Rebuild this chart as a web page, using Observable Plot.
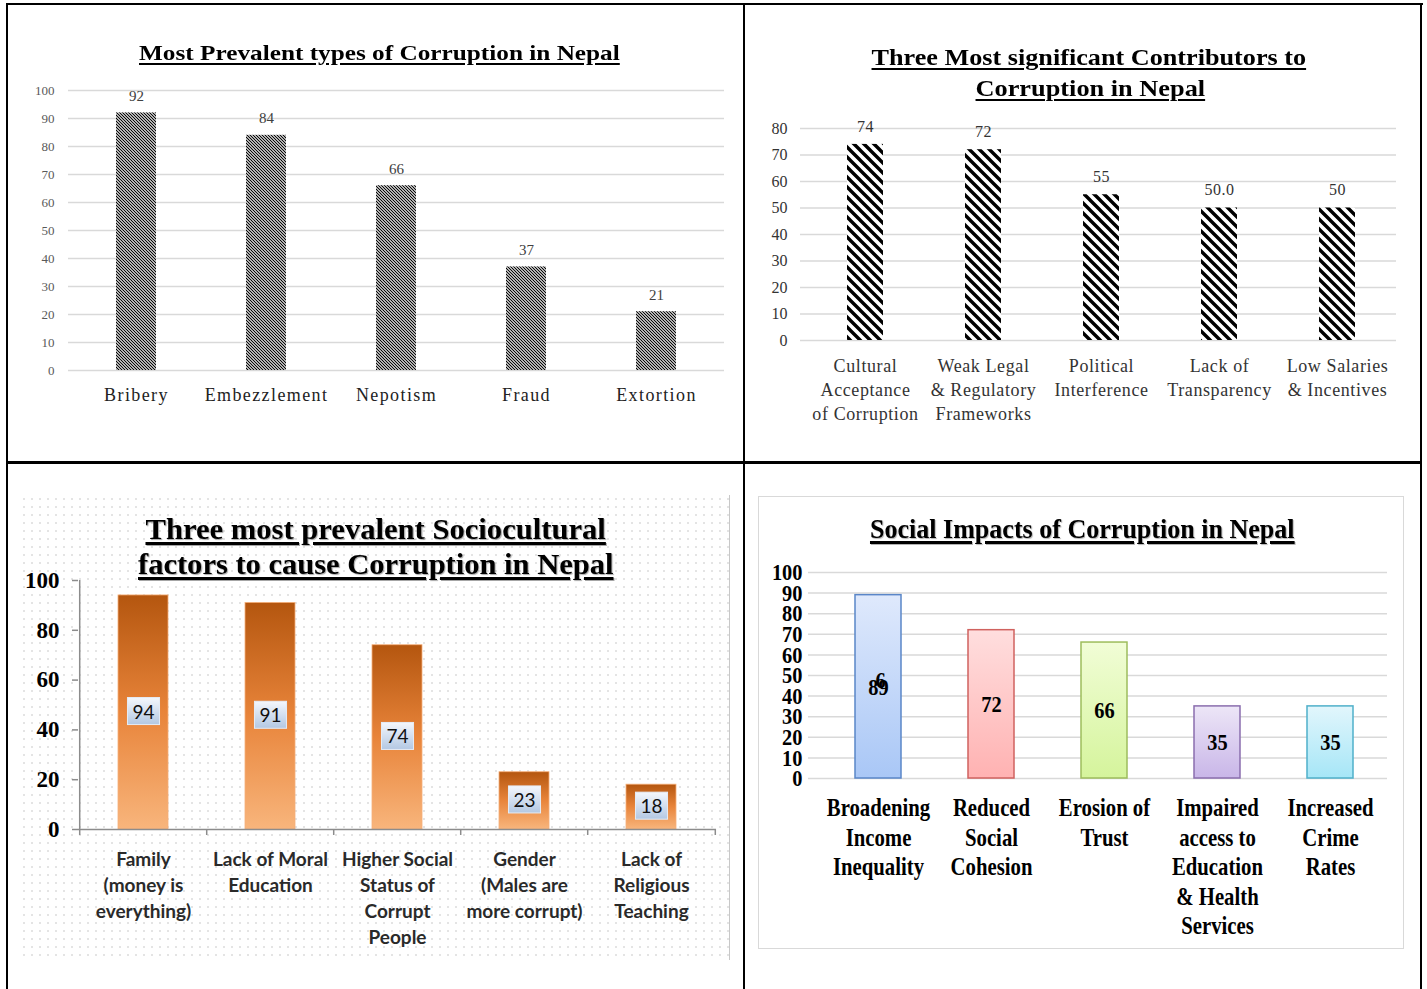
<!DOCTYPE html>
<html><head><meta charset="utf-8">
<script src="https://cdn.jsdelivr.net/npm/d3@7"></script>
<script src="https://cdn.jsdelivr.net/npm/@observablehq/plot@0.6"></script>
<style>
html,body{margin:0;padding:0;background:#fff;}
body{width:1427px;height:989px;position:relative;overflow:hidden;font-family:"Liberation Serif",serif;}
.ln{position:absolute;background:#000;}
.ttl{position:absolute;white-space:nowrap;font-family:"Liberation Serif",serif;font-weight:bold;color:#000;text-decoration:underline;text-decoration-thickness:2px;text-underline-offset:3px;line-height:1;transform-origin:50% 50%;}
.dots{position:absolute;background-image:radial-gradient(circle,#e4e4e4 0.8px,transparent 1.1px);background-size:8px 8px;}
</style></head><body>
<script>
// ---------- DATA ----------
const types = ["Bribery","Embezzlement","Nepotism","Fraud","Extortion"];
const typeValues = [92,84,66,37,21];
const ticks1 = [0,10,20,30,40,50,60,70,80,90,100];

const contributors = ["Cultural\nAcceptance\nof Corruption","Weak Legal\n& Regulatory\nFrameworks","Political\nInterference","Lack of\nTransparency","Low Salaries\n& Incentives"];
const contributorValues = [74,72,55,50,50];
const contributorLabels = ["74","72","55","50.0","50"];
const ticks2 = [0,10,20,30,40,50,60,70,80];

const factors = ["Family\n(money is\neverything)","Lack of Moral\nEducation","Higher Social\nStatus of\nCorrupt\nPeople","Gender\n(Males are\nmore corrupt)","Lack of\nReligious\nTeaching"];
const factorValues = [94,91,74,23,18];
const ticks3 = [0,20,40,60,80,100];

const impacts = ["Broadening\nIncome\nInequality","Reduced\nSocial\nCohesion","Erosion of\nTrust","Impaired\naccess to\nEducation\n& Health\nServices","Increased\nCrime\nRates"];
const impactValues = [89,72,66,35,35];
const impactOverprint = ["6"];
const ticks4 = [0,10,20,30,40,50,60,70,80,90,100];

// ---------- STYLES ----------
const impactFills = ["#dfe9fc","#ffdede","#f1fdd6","#ede6f7","#e2f6fc"];
const impactFills2 = ["#a9c7f6","#ffb2b2","#d5f49c","#c9b6e8","#a6e6f7"];
const impactStrokes = ["#5a86c8","#d0625f","#9dbd5c","#8a6eae","#4fb0ca"];
const serif = "'Liberation Serif','Times New Roman',serif";
const sans = "Lato,'Open Sans',sans-serif";

// ---------- helpers ----------
function place(node, left, top){ node.style.position="absolute"; node.style.left=left+"px"; node.style.top=top+"px"; document.body.appendChild(node); return node; }
function addDefs(svg, html){ const defs=document.createElementNS("http://www.w3.org/2000/svg","defs"); defs.innerHTML=html; svg.insertBefore(defs, svg.firstChild); }
function textGroup(svg,k){ return svg.querySelectorAll('g[aria-label="text"]')[k]; }
function styleGroup(g, styles, sx){
  if (!g) return;
  g.querySelectorAll("text").forEach(t=>{
    for (const k in styles) t.style[k]=styles[k];
    const tr=t.getAttribute("transform");
    if (sx && tr) t.setAttribute("transform",tr+` scale(${sx},1)`);
  });
}
function line(l,t,w,h,c){ const d=document.createElement("div"); d.className="ln"; d.style.cssText+=`left:${l}px;top:${t}px;width:${w}px;height:${h}px;`+(c?`background:${c};`:""); document.body.appendChild(d); }
function title(text, cx, cy, size, targetW, extra){
  const d=document.createElement("div"); d.className="ttl"; d.textContent=text; d.style.fontSize=size+"px";
  if (extra) d.style.cssText+=extra;
  document.body.appendChild(d);
  const w=d.offsetWidth, h=d.offsetHeight;
  d.style.left=(cx-w/2)+"px"; d.style.top=(cy-h/2)+"px";
  d.style.transform=`scaleX(${targetW/w})`;
}

// ---------- frame lines ----------
line(6,3,1417,2); line(6,3,2,986); line(1420,3,2,986); line(743,3,2,986); line(6,461,1416,3);

// ---------- Panel 1 ----------
{
  const data = types.map((name,i)=>({name, value:typeValues[i]}));
  const svg = Plot.plot({
    width:725, height:390, marginTop:30, marginBottom:80, marginLeft:60, marginRight:13,
    style:{fontFamily:serif, background:"transparent", overflow:"visible"},
    x:{domain:types, paddingInner:0.69, paddingOuter:0.345, axis:null},
    y:{domain:[0,100], axis:null},
    marks:[
      Plot.ruleY(ticks1,{stroke:"#d9d9d9", strokeWidth:1.5, insetLeft:-2, insetRight:-2}),
      Plot.text(ticks1,{y:d=>d, text:d=>String(d), frameAnchor:"left", textAnchor:"end", dx:-16, fontSize:13, fill:"#595959"}),
      Plot.barY(data,{x:"name", y:"value", fill:"url(#hatch1)"}),
      Plot.text(data,{x:"name", y:"value", text:d=>String(d.value), dy:-17, fontSize:15, fill:"#404040"}),
      Plot.text(data,{x:"name", y:0, text:"name", dy:25, fontSize:18, fill:"#222"})
    ]
  });
  addDefs(svg, `<pattern id="hatch1" patternUnits="userSpaceOnUse" width="3" height="3"><rect width="3" height="3" fill="#fff"/><path d="M-1,-1L4,4M-1,2L1,4M2,-1L4,1" stroke="#000" stroke-width="1.15"/></pattern>`);
  place(svg,10,60);
  styleGroup(textGroup(svg,2),{letterSpacing:"1.4px"});
  title("Most Prevalent types of Corruption in Nepal",379,53,22,481);
}

// ---------- Panel 2 ----------
{
  const data = contributors.map((name,i)=>({name, value:contributorValues[i], label:contributorLabels[i]}));
  const svg = Plot.plot({
    width:665, height:340, marginTop:28, marginBottom:100, marginLeft:56, marginRight:19,
    style:{fontFamily:serif, background:"transparent", overflow:"visible"},
    x:{domain:contributors, paddingInner:0.695, paddingOuter:0.3475, axis:null},
    y:{domain:[0,80], axis:null},
    marks:[
      Plot.ruleY(ticks2,{stroke:"#d9d9d9", strokeWidth:1.5, insetLeft:-6}),
      Plot.text(ticks2,{y:d=>d, text:d=>String(d), frameAnchor:"left", textAnchor:"end", dx:-19, fontSize:16, fill:"#333"}),
      Plot.barY(data,{x:"name", y:"value", fill:"url(#hatch2)"}),
      Plot.text(data,{x:"name", y:"value", text:"label", dy:-18, fontSize:16, fill:"#333"}),
      Plot.text(data,{x:"name", y:0, text:"name", lineAnchor:"top", dy:15, lineHeight:1.33, fontSize:18, fill:"#333"})
    ]
  });
  addDefs(svg, `<pattern id="hatch2" patternUnits="userSpaceOnUse" width="10" height="10"><rect width="10" height="10" fill="#fff"/><path d="M-2,-2L12,12M-2,8L2,12M8,-2L12,2" stroke="#000" stroke-width="3.4"/></pattern>`);
  place(svg,750,100);
  styleGroup(textGroup(svg,2),{letterSpacing:"0.6px"});
  styleGroup(textGroup(svg,1),{letterSpacing:"0.5px"});
  title("Three Most significant Contributors to",1089,57,23,435);
  title("Corruption in Nepal",1090,88,23,230);
}

// ---------- Panel 3 ----------
{
  const dots=document.createElement("div"); dots.className="dots"; place(dots,20,495); dots.style.width="709px"; dots.style.height="465px";
  line(729,495,1,465,"#c8c8c8");
  const W3=715, ml=63, mr=14, step3=(W3-ml-mr)/factors.length;
  const data = factors.map((name,i)=>({name, value:factorValues[i]}));
  const svg = Plot.plot({
    width:W3, height:390, marginTop:10, marginBottom:131, marginLeft:ml, marginRight:mr,
    style:{fontFamily:serif, background:"transparent", overflow:"visible"},
    x:{domain:factors, paddingInner:0.61, paddingOuter:0.305, axis:null},
    y:{domain:[0,100], axis:null},
    marks:[
      Plot.barY(data,{x:"name", y:"value", fill:"url(#orange)", stroke:"#f6b07a", strokeWidth:0.8}),
      Plot.ruleY([0],{stroke:"#8c8c8c", strokeWidth:1.5}),
      Plot.ruleX([factors[0]],{dx:-step3/2, y1:0, y2:100, stroke:"#8c8c8c", strokeWidth:1.5}),
      Plot.ruleX(factors,{dx:-step3/2, y1:0, y2:-2.4, stroke:"#8c8c8c", strokeWidth:1.5}),
      Plot.ruleX([factors[factors.length-1]],{dx:step3/2, y1:0, y2:-2.4, stroke:"#8c8c8c", strokeWidth:1.5}),
      Plot.axisY(ticks3,{tickSize:6, tickFormat:()=>"", label:null, stroke:"#8c8c8c", strokeWidth:1.5}),
      Plot.text(ticks3,{y:d=>d, text:d=>String(d), frameAnchor:"left", textAnchor:"end", dx:-19, fontSize:23, fontWeight:"bold", fill:"#000"}),
      Plot.text(data,{x:"name", y:d=>d.value/2, text:d=>String(d.value), fontSize:19, fill:"#111", fontFamily:sans}),
      Plot.text(data,{x:"name", y:0, text:"name", lineAnchor:"top", dy:18, lineHeight:1.37, fontSize:19, fontWeight:"bold", fill:"#2a2a2a", fontFamily:sans})
    ]
  });
  addDefs(svg, `<linearGradient id="orange" x1="0" y1="0" x2="0" y2="1"><stop offset="0" stop-color="#b4560f"/><stop offset="0.5" stop-color="#e8843a"/><stop offset="1" stop-color="#f8b57c"/></linearGradient>
  <linearGradient id="boxg" x1="0" y1="0" x2="0" y2="1"><stop offset="0" stop-color="#f4f7fc"/><stop offset="1" stop-color="#b3c8e3"/></linearGradient>`);
  place(svg,15,570);
  const vg = textGroup(svg,1);
  if (vg) vg.querySelectorAll("text").forEach(t=>{
    const bb=t.getBBox();
    const r=document.createElementNS("http://www.w3.org/2000/svg","rect");
    r.setAttribute("x",bb.x-5); r.setAttribute("y",bb.y-2); r.setAttribute("width",bb.width+10); r.setAttribute("height",bb.height+4);
    r.setAttribute("fill","url(#boxg)"); r.setAttribute("stroke","#e4ecf6"); r.setAttribute("stroke-width","1");
    r.setAttribute("transform",t.getAttribute("transform"));
    t.parentNode.insertBefore(r,t);
  });
  const ex="text-shadow:1px 1px 1px rgba(0,0,0,0.35);text-decoration-thickness:2.5px;";
  title("Three most prevalent Sociocultural",375,529,30,460,ex);
  title("factors to cause Corruption in Nepal",375,564,30,475,ex);
}

// ---------- Panel 4 ----------
{
  const box=document.createElement("div"); box.style.cssText="border:1.5px solid #d9d9d9;width:646px;height:453px;box-sizing:border-box;"; place(box,758,496);
  const data = impacts.map((name,i)=>({name, value:impactValues[i], i}));
  const over = impactOverprint.map(t=>({name:impacts[0], value:impactValues[0], t}));
  const svg = Plot.plot({
    width:660, height:380, marginTop:12, marginBottom:162, marginLeft:70, marginRight:23,
    style:{fontFamily:serif, background:"transparent", overflow:"visible"},
    x:{domain:impacts, paddingInner:0.595, paddingOuter:0.2975, axis:null},
    y:{domain:[0,100], axis:null},
    color:{type:"identity"},
    marks:[
      Plot.ruleY(ticks4,{stroke:"#d9d9d9", strokeWidth:1.5, insetLeft:-12}),
      Plot.text(ticks4,{y:d=>d, text:d=>String(d), frameAnchor:"left", textAnchor:"end", dx:-18, fontSize:24, fontWeight:"bold", fill:"#000"}),
      Plot.barY(data,{x:"name", y:"value", fill:d=>`url(#ig${d.i})`, stroke:d=>impactStrokes[d.i], strokeWidth:1.5}),
      Plot.text(data,{x:"name", y:d=>d.value/2, text:d=>String(d.value), fontSize:24, fontWeight:"bold", fill:"#000"}),
      Plot.text(over,{x:"name", y:d=>d.value/2, text:"t", dx:2, dy:-7, fontSize:24, fontWeight:"bold", fill:"#000"}),
      Plot.text(data,{x:"name", y:0, text:"name", lineAnchor:"top", dy:17, lineHeight:1.18, fontSize:25, fontWeight:"bold", fill:"#000"})
    ]
  });
  addDefs(svg, impactFills.map((c,i)=>`<linearGradient id="ig${i}" x1="0" y1="0" x2="0" y2="1"><stop offset="0" stop-color="${c}"/><stop offset="1" stop-color="${impactFills2[i]}"/></linearGradient>`).join(""));
  place(svg,750,560);
  styleGroup(textGroup(svg,0),{},0.85);
  styleGroup(textGroup(svg,1),{},0.85);
  styleGroup(textGroup(svg,2),{},0.85);
  styleGroup(textGroup(svg,3),{},0.83);
  const ex="text-shadow:1px 1px 1px rgba(0,0,0,0.3);text-decoration-thickness:2.5px;";
  title("Social Impacts of Corruption in Nepal",1082,529,28,425,ex);
}
</script>
</body></html>
